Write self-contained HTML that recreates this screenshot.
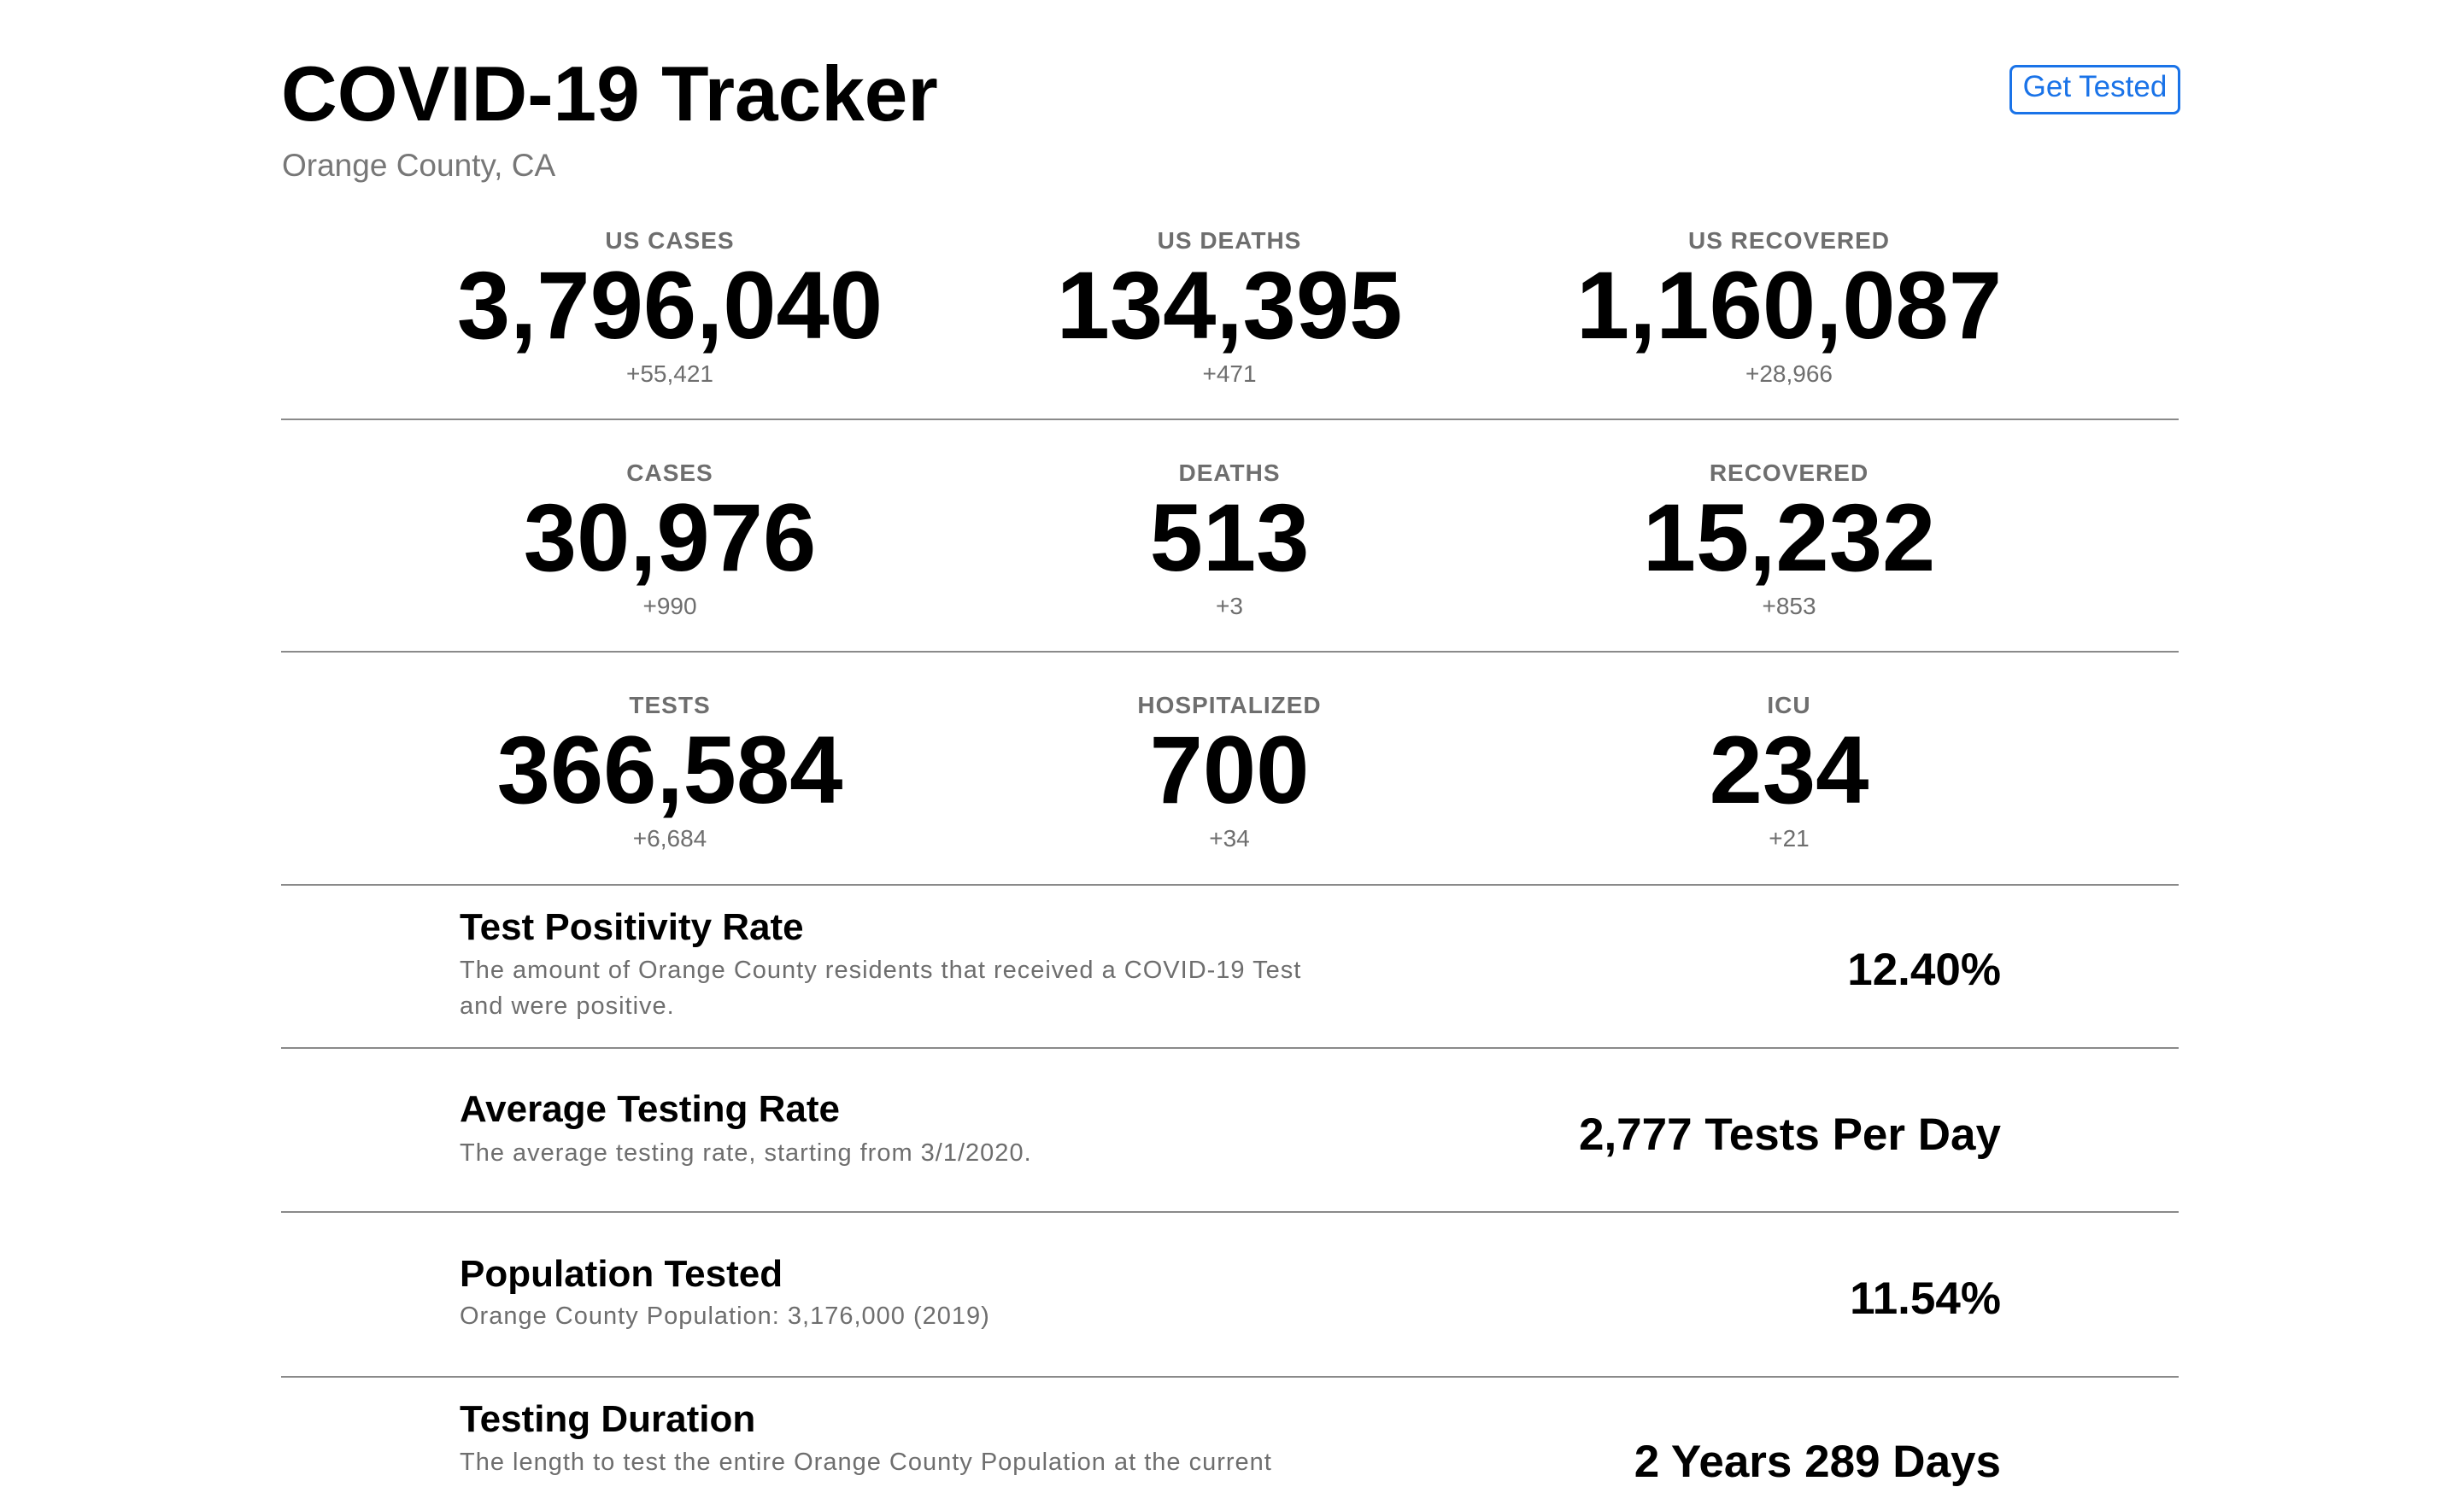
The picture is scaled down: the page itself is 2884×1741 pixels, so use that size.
<!DOCTYPE html>
<html><head><meta charset="utf-8"><style>
html,body{margin:0;padding:0;background:#fff;width:2884px;height:1732px;overflow:hidden;font-family:"Liberation Sans",sans-serif;}
.a{position:absolute;line-height:1;white-space:nowrap;}
.c{transform:translateX(-50%);text-align:center;}
.r{transform:translateX(-100%);}
.lab{font-size:28px;font-weight:bold;color:#6e6e6e;letter-spacing:1px;}
.num{font-size:112px;font-weight:bold;color:#000;}
.d{font-size:28px;color:#6e6e6e;}
.hr{position:absolute;left:329px;width:2221px;height:2px;background:#8a8a8a;}
.t{font-size:44px;font-weight:bold;color:#000;left:538px;}
.ds{font-size:29px;color:#6e6e6e;left:538px;letter-spacing:1px;}
.v{font-size:53px;font-weight:bold;color:#000;left:2342px;}
</style></head><body>
<div class="a" style="left:329px;top:65px;font-size:91px;font-weight:bold;">COVID-19 Tracker</div>
<div class="a" style="left:330px;top:175px;font-size:37px;color:#777;">Orange County, CA</div>
<div class="a" style="left:2352px;top:76px;width:194px;height:52px;border:3px solid #1a73e8;border-radius:8px;box-sizing:content-box;"></div>
<div class="a" style="left:2352px;top:84px;width:200px;text-align:center;font-size:35px;color:#1a73e8;">Get Tested</div>

<div class="a c lab" style="left:784px;top:268px">US CASES</div>
<div class="a c num" style="left:784px;top:302px">3,796,040</div>
<div class="a c d" style="left:784px;top:424px">+55,421</div>
<div class="a c lab" style="left:1439px;top:268px">US DEATHS</div>
<div class="a c num" style="left:1439px;top:302px">134,395</div>
<div class="a c d" style="left:1439px;top:424px">+471</div>
<div class="a c lab" style="left:2094px;top:268px">US RECOVERED</div>
<div class="a c num" style="left:2094px;top:302px">1,160,087</div>
<div class="a c d" style="left:2094px;top:424px">+28,966</div>
<div class="hr" style="top:490px"></div>

<div class="a c lab" style="left:784px;top:540px">CASES</div>
<div class="a c num" style="left:784px;top:574px">30,976</div>
<div class="a c d" style="left:784px;top:696px">+990</div>
<div class="a c lab" style="left:1439px;top:540px">DEATHS</div>
<div class="a c num" style="left:1439px;top:574px">513</div>
<div class="a c d" style="left:1439px;top:696px">+3</div>
<div class="a c lab" style="left:2094px;top:540px">RECOVERED</div>
<div class="a c num" style="left:2094px;top:574px">15,232</div>
<div class="a c d" style="left:2094px;top:696px">+853</div>
<div class="hr" style="top:762px"></div>

<div class="a c lab" style="left:784px;top:812px">TESTS</div>
<div class="a c num" style="left:784px;top:846px">366,584</div>
<div class="a c d" style="left:784px;top:968px">+6,684</div>
<div class="a c lab" style="left:1439px;top:812px">HOSPITALIZED</div>
<div class="a c num" style="left:1439px;top:846px">700</div>
<div class="a c d" style="left:1439px;top:968px">+34</div>
<div class="a c lab" style="left:2094px;top:812px">ICU</div>
<div class="a c num" style="left:2094px;top:846px">234</div>
<div class="a c d" style="left:2094px;top:968px">+21</div>
<div class="hr" style="top:1035px"></div>

<div class="a t" style="top:1064px">Test Positivity Rate</div>
<div class="a ds" style="top:1122px">The amount of Orange County residents that received a COVID-19 Test</div>
<div class="a ds" style="top:1164px">and were positive.</div>
<div class="a v r" style="top:1109px">12.40%</div>
<div class="hr" style="top:1226px"></div>

<div class="a t" style="top:1277px">Average Testing Rate</div>
<div class="a ds" style="top:1336px">The average testing rate, starting from 3/1/2020.</div>
<div class="a v r" style="top:1302px">2,777 Tests Per Day</div>
<div class="hr" style="top:1418px"></div>

<div class="a t" style="top:1470px">Population Tested</div>
<div class="a ds" style="top:1527px">Orange County Population: 3,176,000 (2019)</div>
<div class="a v r" style="top:1494px">11.54%</div>
<div class="hr" style="top:1611px"></div>

<div class="a t" style="top:1640px">Testing Duration</div>
<div class="a ds" style="top:1698px">The length to test the entire Orange County Population at the current</div>
<div class="a v r" style="top:1685px">2 Years 289 Days</div>
</body></html>
